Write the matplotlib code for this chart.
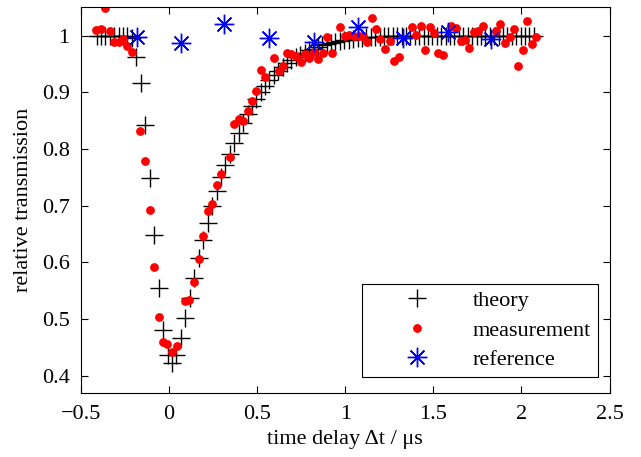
import numpy as np
import matplotlib.pyplot as plt

plt.rcParams['font.family'] = ['Liberation Serif', 'DejaVu Serif']

# measured transmission (red dots)
meas_t = [-0.414, -0.386, -0.362, -0.336, -0.311, -0.285, -0.260, -0.236, -0.211,
          -0.162, -0.136, -0.108, -0.082, -0.059, -0.032, -0.008, 0.017, 0.044,
          0.091, 0.116, 0.144, 0.168, 0.193, 0.220, 0.244, 0.271, 0.295, 0.347,
          0.371, 0.396, 0.420, 0.447, 0.472, 0.496, 0.520, 0.545, 0.595, 0.623,
          0.648, 0.670, 0.693, 0.720, 0.748, 0.773, 0.797, 0.822, 0.848, 0.873,
          0.898, 0.924, 0.973, 1.000, 1.024, 1.049, 1.076, 1.100, 1.125, 1.152,
          1.176, 1.200, 1.227, 1.252, 1.277, 1.303, 1.379, 1.403, 1.428, 1.453,
          1.479, 1.504, 1.528, 1.553, 1.600, 1.631, 1.655, 1.678, 1.704, 1.729,
          1.754, 1.780, 1.858, 1.880, 1.905, 1.934, 1.957, 1.981, 2.006, 2.032,
          2.057, 2.080]
meas_y = [1.010, 1.011, 1.048, 1.009, 0.989, 0.988, 0.994, 0.981, 0.971,
          0.831, 0.778, 0.693, 0.591, 0.504, 0.459, 0.455, 0.442, 0.453,
          0.531, 0.534, 0.566, 0.606, 0.647, 0.690, 0.703, 0.736, 0.756, 0.785,
          0.844, 0.852, 0.850, 0.867, 0.884, 0.903, 0.940, 0.927, 0.960, 0.937,
          0.947, 0.970, 0.968, 0.964, 0.954, 0.968, 0.960, 0.972, 0.959, 0.969,
          0.997, 0.970, 1.015, 1.000, 1.001, 0.999, 0.999, 0.999, 0.988, 1.031,
          1.011, 0.994, 0.977, 0.991, 0.956, 0.962, 1.015, 1.002, 1.017, 0.975,
          1.015, 1.005, 0.970, 0.966, 1.017, 1.013, 0.990, 0.993, 0.978, 1.006,
          1.009, 1.017, 1.009, 1.020, 0.987, 0.998, 1.012, 0.947, 0.975, 1.025,
          0.985, 0.997]

# theory (black crosses)
theo_t = [-0.410, -0.385, -0.360, -0.335, -0.310, -0.285, -0.260, -0.235, -0.210,
          -0.185, -0.160, -0.135, -0.110, -0.083, -0.059, -0.032, -0.007, 0.018,
          0.043, 0.068, 0.093, 0.119, 0.144, 0.169, 0.195, 0.220, 0.246, 0.271,
          0.296, 0.320, 0.347, 0.370, 0.396, 0.420, 0.447, 0.472, 0.496, 0.520,
          0.545, 0.570, 0.595, 0.620, 0.645, 0.670, 0.695, 0.720, 0.745, 0.770,
          0.795, 0.820, 0.845, 0.870, 0.895, 0.920, 0.945, 0.970, 0.995, 1.020,
          1.045, 1.070, 1.095, 1.120, 1.145, 1.170, 1.195, 1.220, 1.245, 1.270,
          1.295, 1.320, 1.345, 1.370, 1.395, 1.420, 1.445, 1.470, 1.495, 1.520,
          1.545, 1.570, 1.595, 1.620, 1.645, 1.670, 1.695, 1.720, 1.745, 1.770,
          1.795, 1.820, 1.845, 1.870, 1.895, 1.920, 1.945, 1.970, 1.995, 2.020,
          2.045, 2.070]
theo_y = [1.000, 1.000, 1.000, 1.000, 1.000, 1.000, 1.000, 0.999, 0.995,
          0.963, 0.916, 0.843, 0.749, 0.648, 0.555, 0.480, 0.437, 0.423,
          0.436, 0.466, 0.502, 0.537, 0.572, 0.607, 0.640, 0.670, 0.700, 0.726,
          0.751, 0.772, 0.791, 0.810, 0.828, 0.845, 0.861, 0.875, 0.888, 0.900,
          0.911, 0.921, 0.930, 0.938, 0.945, 0.951, 0.957, 0.962, 0.966, 0.970,
          0.974, 0.977, 0.980, 0.983, 0.985, 0.987, 0.989, 0.991, 0.992, 0.993,
          0.994, 0.995, 0.996, 0.997, 0.997, 0.998, 0.998, 0.999, 0.999, 0.999,
          1.000, 1.000, 1.000, 1.000, 1.000, 1.000, 1.000, 1.000, 1.000, 1.000,
          1.000, 1.000, 1.000, 1.000, 1.000, 1.000, 1.000, 1.000, 1.000, 1.000,
          1.000, 1.000, 1.000, 1.000, 1.000, 1.000, 1.000, 1.000, 1.000, 1.000,
          1.000, 1.000]

# reference (blue asterisks)
ref_t = [-0.182, 0.068, 0.314, 0.570, 0.822, 1.072, 1.328, 1.583, 1.830]
ref_y = [0.998, 0.987, 1.021, 0.995, 0.989, 1.015, 0.995, 1.007, 0.994]

fig = plt.figure(figsize=(6.41, 4.57), dpi=100)
ax = fig.add_axes([0.126, 0.141, 0.825, 0.843])

ax.plot(theo_t, theo_y, '+', color='k', ms=13, mew=1.0, label='theory')
ax.plot(meas_t, meas_y, 'o', color='r', ms=5.3, mec='r', label='measurement')
ax.plot(ref_t, ref_y, linestyle='none', marker=(8, 2, 0), color='b', ms=14,
        mew=1.0, label='reference')

ax.set_xlim(-0.5, 2.5)
ax.set_ylim(0.37, 1.05)
ax.set_xticks([-0.5, 0, 0.5, 1, 1.5, 2, 2.5])
ax.set_xticklabels(['\u22120.5', '0', '0.5', '1', '1.5', '2', '2.5'])
ax.set_yticks([0.4, 0.5, 0.6, 0.7, 0.8, 0.9, 1])
ax.set_yticklabels(['0.4', '0.5', '0.6', '0.7', '0.8', '0.9', '1'])
ax.tick_params(direction='in', top=True, right=True, length=5, width=0.8,
               labelsize=16)
ax.tick_params(axis='x', pad=9)
ax.tick_params(axis='y', pad=8)
for s in ax.spines.values():
    s.set_linewidth(0.8)

ax.set_xlabel('time delay \u0394t / \u03bcs', fontsize=16, labelpad=4)
ax.set_ylabel('relative transmission', fontsize=16, labelpad=6)

leg = ax.legend(loc='lower right', bbox_to_anchor=(0.978, 0.041), fontsize=16,
                fancybox=False, framealpha=1, edgecolor='k', borderpad=0.3,
                borderaxespad=0, handletextpad=0.3, labelspacing=0.4,
                handlelength=4.4)
leg.get_frame().set_linewidth(0.8)

plt.savefig('out.png', dpi=100)
